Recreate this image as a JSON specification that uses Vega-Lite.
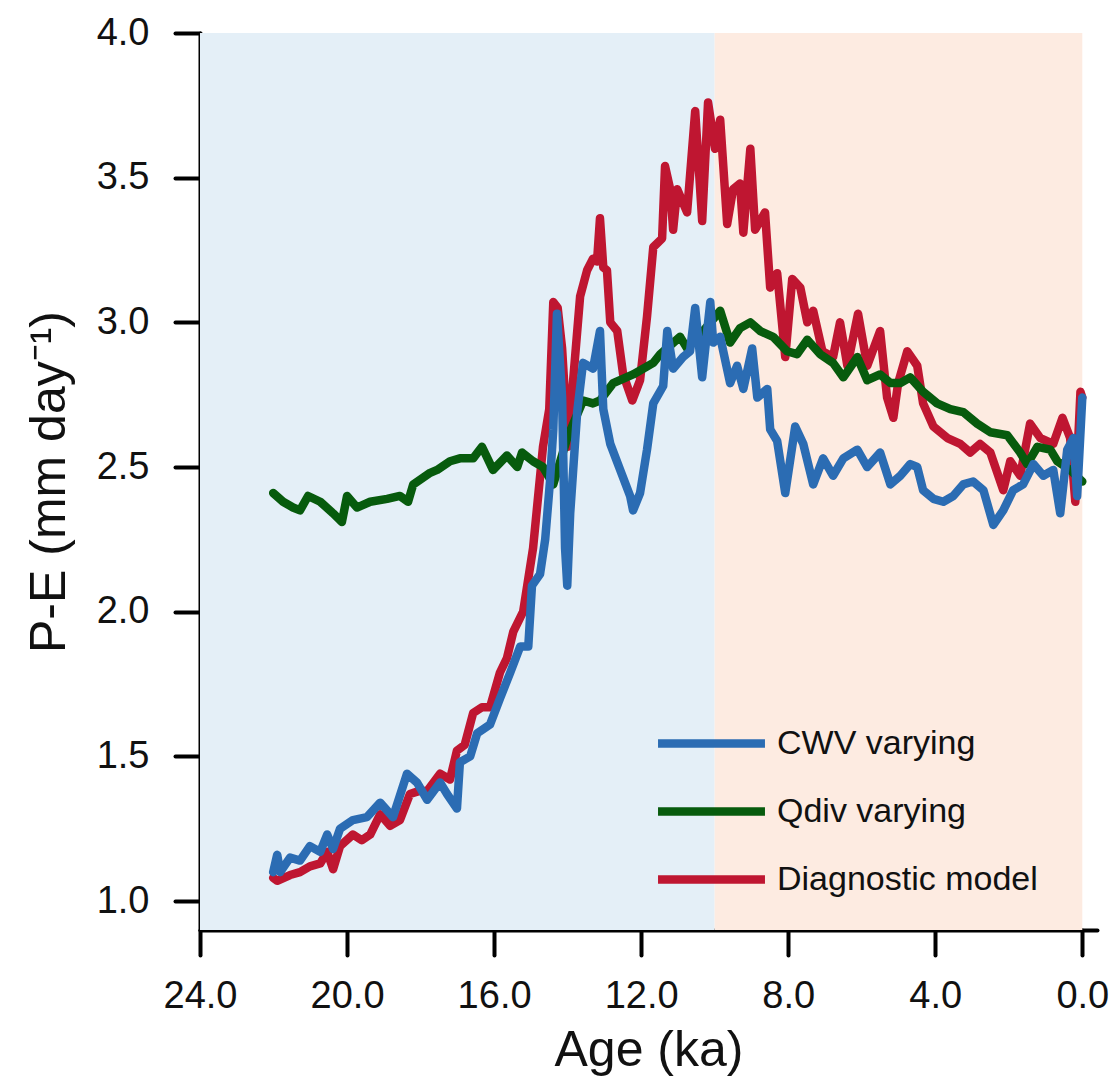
{
  "$schema": "https://vega.github.io/schema/vega-lite/v6.json",
  "width": 897,
  "height": 897,
  "autosize": {"type": "none"},
  "padding": {"left": 200, "top": 33, "right": 16, "bottom": 161},
  "background": "white",
  "config": {
    "view": {"stroke": null},
    "font": "Liberation Sans",
    "axis": {
      "domainColor": "#000000", "domainWidth": 4, "domainCap": "round",
      "tickColor": "#000000", "tickWidth": 4, "tickSize": 25, "tickCap": "round",
      "grid": false, "labelFont": "Liberation Sans", "labelColor": "#111111",
      "titleFont": "Liberation Sans", "titleFontWeight": "normal", "titleColor": "#111111"
    }
  },
  "data": {"values": [
    {"series":"Diagnostic model","age":22.01,"pe":1.08},{"series":"Diagnostic model","age":21.90,"pe":1.07},{"series":"Diagnostic model","age":21.55,"pe":1.09},{"series":"Diagnostic model","age":21.28,"pe":1.10},{"series":"Diagnostic model","age":21.01,"pe":1.12},{"series":"Diagnostic model","age":20.73,"pe":1.13},{"series":"Diagnostic model","age":20.54,"pe":1.17},{"series":"Diagnostic model","age":20.38,"pe":1.11},{"series":"Diagnostic model","age":20.19,"pe":1.19},{"series":"Diagnostic model","age":19.84,"pe":1.23},{"series":"Diagnostic model","age":19.60,"pe":1.21},{"series":"Diagnostic model","age":19.37,"pe":1.23},{"series":"Diagnostic model","age":19.10,"pe":1.30},{"series":"Diagnostic model","age":18.83,"pe":1.26},{"series":"Diagnostic model","age":18.56,"pe":1.28},{"series":"Diagnostic model","age":18.29,"pe":1.37},{"series":"Diagnostic model","age":18.05,"pe":1.38},{"series":"Diagnostic model","age":17.82,"pe":1.38},{"series":"Diagnostic model","age":17.47,"pe":1.44},{"series":"Diagnostic model","age":17.20,"pe":1.42},{"series":"Diagnostic model","age":17.01,"pe":1.52},{"series":"Diagnostic model","age":16.80,"pe":1.54},{"series":"Diagnostic model","age":16.57,"pe":1.65},{"series":"Diagnostic model","age":16.33,"pe":1.67},{"series":"Diagnostic model","age":16.11,"pe":1.67},{"series":"Diagnostic model","age":15.84,"pe":1.79},{"series":"Diagnostic model","age":15.65,"pe":1.84},{"series":"Diagnostic model","age":15.48,"pe":1.93},{"series":"Diagnostic model","age":15.21,"pe":2.00},{"series":"Diagnostic model","age":14.94,"pe":2.22},{"series":"Diagnostic model","age":14.67,"pe":2.57},{"series":"Diagnostic model","age":14.50,"pe":2.70},{"series":"Diagnostic model","age":14.39,"pe":3.07},{"series":"Diagnostic model","age":14.27,"pe":3.05},{"series":"Diagnostic model","age":14.15,"pe":2.91},{"series":"Diagnostic model","age":13.99,"pe":2.57},{"series":"Diagnostic model","age":13.85,"pe":2.80},{"series":"Diagnostic model","age":13.66,"pe":3.09},{"series":"Diagnostic model","age":13.47,"pe":3.18},{"series":"Diagnostic model","age":13.31,"pe":3.22},{"series":"Diagnostic model","age":13.20,"pe":3.21},{"series":"Diagnostic model","age":13.12,"pe":3.36},{"series":"Diagnostic model","age":13.03,"pe":3.19},{"series":"Diagnostic model","age":12.93,"pe":3.18},{"series":"Diagnostic model","age":12.84,"pe":3.00},{"series":"Diagnostic model","age":12.65,"pe":2.97},{"series":"Diagnostic model","age":12.49,"pe":2.82},{"series":"Diagnostic model","age":12.24,"pe":2.73},{"series":"Diagnostic model","age":12.03,"pe":2.80},{"series":"Diagnostic model","age":11.84,"pe":3.02},{"series":"Diagnostic model","age":11.67,"pe":3.26},{"series":"Diagnostic model","age":11.43,"pe":3.29},{"series":"Diagnostic model","age":11.35,"pe":3.54},{"series":"Diagnostic model","age":11.21,"pe":3.46},{"series":"Diagnostic model","age":11.13,"pe":3.32},{"series":"Diagnostic model","age":11.02,"pe":3.46},{"series":"Diagnostic model","age":10.75,"pe":3.38},{"series":"Diagnostic model","age":10.53,"pe":3.73},{"series":"Diagnostic model","age":10.34,"pe":3.35},{"series":"Diagnostic model","age":10.18,"pe":3.76},{"series":"Diagnostic model","age":9.99,"pe":3.60},{"series":"Diagnostic model","age":9.85,"pe":3.70},{"series":"Diagnostic model","age":9.66,"pe":3.34},{"series":"Diagnostic model","age":9.50,"pe":3.46},{"series":"Diagnostic model","age":9.31,"pe":3.48},{"series":"Diagnostic model","age":9.22,"pe":3.31},{"series":"Diagnostic model","age":9.03,"pe":3.60},{"series":"Diagnostic model","age":8.90,"pe":3.32},{"series":"Diagnostic model","age":8.63,"pe":3.38},{"series":"Diagnostic model","age":8.49,"pe":3.12},{"series":"Diagnostic model","age":8.30,"pe":3.17},{"series":"Diagnostic model","age":8.08,"pe":2.88},{"series":"Diagnostic model","age":7.89,"pe":3.15},{"series":"Diagnostic model","age":7.67,"pe":3.12},{"series":"Diagnostic model","age":7.48,"pe":3.00},{"series":"Diagnostic model","age":7.32,"pe":3.04},{"series":"Diagnostic model","age":7.07,"pe":2.90},{"series":"Diagnostic model","age":6.78,"pe":2.88},{"series":"Diagnostic model","age":6.59,"pe":3.00},{"series":"Diagnostic model","age":6.39,"pe":2.85},{"series":"Diagnostic model","age":6.10,"pe":3.03},{"series":"Diagnostic model","age":5.85,"pe":2.85},{"series":"Diagnostic model","age":5.50,"pe":2.97},{"series":"Diagnostic model","age":5.31,"pe":2.74},{"series":"Diagnostic model","age":5.14,"pe":2.67},{"series":"Diagnostic model","age":5.01,"pe":2.79},{"series":"Diagnostic model","age":4.76,"pe":2.90},{"series":"Diagnostic model","age":4.49,"pe":2.85},{"series":"Diagnostic model","age":4.33,"pe":2.72},{"series":"Diagnostic model","age":4.05,"pe":2.64},{"series":"Diagnostic model","age":3.67,"pe":2.60},{"series":"Diagnostic model","age":3.32,"pe":2.58},{"series":"Diagnostic model","age":3.05,"pe":2.55},{"series":"Diagnostic model","age":2.78,"pe":2.58},{"series":"Diagnostic model","age":2.50,"pe":2.55},{"series":"Diagnostic model","age":2.15,"pe":2.42},{"series":"Diagnostic model","age":1.96,"pe":2.52},{"series":"Diagnostic model","age":1.69,"pe":2.47},{"series":"Diagnostic model","age":1.42,"pe":2.65},{"series":"Diagnostic model","age":1.14,"pe":2.60},{"series":"Diagnostic model","age":0.79,"pe":2.58},{"series":"Diagnostic model","age":0.54,"pe":2.67},{"series":"Diagnostic model","age":0.33,"pe":2.60},{"series":"Diagnostic model","age":0.19,"pe":2.38},{"series":"Diagnostic model","age":0.05,"pe":2.76},{"series":"Diagnostic model","age":0.00,"pe":2.74},

    {"series":"Qdiv varying","age":22.01,"pe":2.41},{"series":"Qdiv varying","age":21.74,"pe":2.38},{"series":"Qdiv varying","age":21.47,"pe":2.36},{"series":"Qdiv varying","age":21.28,"pe":2.35},{"series":"Qdiv varying","age":21.06,"pe":2.40},{"series":"Qdiv varying","age":20.73,"pe":2.38},{"series":"Qdiv varying","age":20.38,"pe":2.34},{"series":"Qdiv varying","age":20.14,"pe":2.31},{"series":"Qdiv varying","age":20.00,"pe":2.40},{"series":"Qdiv varying","age":19.73,"pe":2.36},{"series":"Qdiv varying","age":19.37,"pe":2.38},{"series":"Qdiv varying","age":18.91,"pe":2.39},{"series":"Qdiv varying","age":18.56,"pe":2.40},{"series":"Qdiv varying","age":18.34,"pe":2.38},{"series":"Qdiv varying","age":18.20,"pe":2.44},{"series":"Qdiv varying","age":17.74,"pe":2.48},{"series":"Qdiv varying","age":17.55,"pe":2.49},{"series":"Qdiv varying","age":17.20,"pe":2.52},{"series":"Qdiv varying","age":16.93,"pe":2.53},{"series":"Qdiv varying","age":16.57,"pe":2.53},{"series":"Qdiv varying","age":16.33,"pe":2.57},{"series":"Qdiv varying","age":16.03,"pe":2.49},{"series":"Qdiv varying","age":15.65,"pe":2.54},{"series":"Qdiv varying","age":15.37,"pe":2.50},{"series":"Qdiv varying","age":15.24,"pe":2.55},{"series":"Qdiv varying","age":14.94,"pe":2.52},{"series":"Qdiv varying","age":14.67,"pe":2.50},{"series":"Qdiv varying","age":14.39,"pe":2.44},{"series":"Qdiv varying","age":14.01,"pe":2.60},{"series":"Qdiv varying","age":13.58,"pe":2.73},{"series":"Qdiv varying","age":13.31,"pe":2.72},{"series":"Qdiv varying","age":13.12,"pe":2.73},{"series":"Qdiv varying","age":12.76,"pe":2.79},{"series":"Qdiv varying","age":12.22,"pe":2.82},{"series":"Qdiv varying","age":11.67,"pe":2.86},{"series":"Qdiv varying","age":11.48,"pe":2.89},{"series":"Qdiv varying","age":10.94,"pe":2.95},{"series":"Qdiv varying","age":10.75,"pe":2.91},{"series":"Qdiv varying","age":10.31,"pe":2.97},{"series":"Qdiv varying","age":9.85,"pe":3.04},{"series":"Qdiv varying","age":9.58,"pe":2.93},{"series":"Qdiv varying","age":9.31,"pe":2.98},{"series":"Qdiv varying","age":9.03,"pe":3.00},{"series":"Qdiv varying","age":8.76,"pe":2.97},{"series":"Qdiv varying","age":8.41,"pe":2.95},{"series":"Qdiv varying","age":8.03,"pe":2.90},{"series":"Qdiv varying","age":7.76,"pe":2.89},{"series":"Qdiv varying","age":7.48,"pe":2.94},{"series":"Qdiv varying","age":7.13,"pe":2.89},{"series":"Qdiv varying","age":6.78,"pe":2.86},{"series":"Qdiv varying","age":6.50,"pe":2.81},{"series":"Qdiv varying","age":6.12,"pe":2.88},{"series":"Qdiv varying","age":5.85,"pe":2.80},{"series":"Qdiv varying","age":5.50,"pe":2.82},{"series":"Qdiv varying","age":5.22,"pe":2.79},{"series":"Qdiv varying","age":4.95,"pe":2.79},{"series":"Qdiv varying","age":4.68,"pe":2.81},{"series":"Qdiv varying","age":4.33,"pe":2.76},{"series":"Qdiv varying","age":3.95,"pe":2.72},{"series":"Qdiv varying","age":3.59,"pe":2.70},{"series":"Qdiv varying","age":3.24,"pe":2.69},{"series":"Qdiv varying","age":2.86,"pe":2.65},{"series":"Qdiv varying","age":2.50,"pe":2.62},{"series":"Qdiv varying","age":2.04,"pe":2.61},{"series":"Qdiv varying","age":1.69,"pe":2.55},{"series":"Qdiv varying","age":1.50,"pe":2.51},{"series":"Qdiv varying","age":1.22,"pe":2.57},{"series":"Qdiv varying","age":0.87,"pe":2.56},{"series":"Qdiv varying","age":0.68,"pe":2.52},{"series":"Qdiv varying","age":0.33,"pe":2.49},{"series":"Qdiv varying","age":0.00,"pe":2.45},

    {"series":"CWV varying","age":22.01,"pe":1.10},{"series":"CWV varying","age":21.90,"pe":1.16},{"series":"CWV varying","age":21.82,"pe":1.10},{"series":"CWV varying","age":21.55,"pe":1.15},{"series":"CWV varying","age":21.28,"pe":1.14},{"series":"CWV varying","age":21.01,"pe":1.19},{"series":"CWV varying","age":20.73,"pe":1.17},{"series":"CWV varying","age":20.54,"pe":1.23},{"series":"CWV varying","age":20.38,"pe":1.18},{"series":"CWV varying","age":20.19,"pe":1.25},{"series":"CWV varying","age":19.84,"pe":1.28},{"series":"CWV varying","age":19.46,"pe":1.29},{"series":"CWV varying","age":19.10,"pe":1.34},{"series":"CWV varying","age":18.75,"pe":1.29},{"series":"CWV varying","age":18.37,"pe":1.44},{"series":"CWV varying","age":18.10,"pe":1.41},{"series":"CWV varying","age":17.82,"pe":1.35},{"series":"CWV varying","age":17.47,"pe":1.41},{"series":"CWV varying","age":17.28,"pe":1.37},{"series":"CWV varying","age":17.01,"pe":1.32},{"series":"CWV varying","age":16.93,"pe":1.48},{"series":"CWV varying","age":16.65,"pe":1.50},{"series":"CWV varying","age":16.46,"pe":1.58},{"series":"CWV varying","age":16.11,"pe":1.61},{"series":"CWV varying","age":15.84,"pe":1.70},{"series":"CWV varying","age":15.56,"pe":1.79},{"series":"CWV varying","age":15.29,"pe":1.88},{"series":"CWV varying","age":15.07,"pe":1.88},{"series":"CWV varying","age":14.97,"pe":2.09},{"series":"CWV varying","age":14.75,"pe":2.13},{"series":"CWV varying","age":14.61,"pe":2.25},{"series":"CWV varying","age":14.48,"pe":2.45},{"series":"CWV varying","age":14.39,"pe":2.63},{"series":"CWV varying","age":14.29,"pe":3.03},{"series":"CWV varying","age":14.15,"pe":2.74},{"series":"CWV varying","age":14.07,"pe":2.22},{"series":"CWV varying","age":14.01,"pe":2.09},{"series":"CWV varying","age":13.93,"pe":2.34},{"series":"CWV varying","age":13.74,"pe":2.69},{"series":"CWV varying","age":13.58,"pe":2.86},{"series":"CWV varying","age":13.31,"pe":2.84},{"series":"CWV varying","age":13.12,"pe":2.97},{"series":"CWV varying","age":13.03,"pe":2.70},{"series":"CWV varying","age":12.84,"pe":2.58},{"series":"CWV varying","age":12.57,"pe":2.49},{"series":"CWV varying","age":12.30,"pe":2.40},{"series":"CWV varying","age":12.22,"pe":2.35},{"series":"CWV varying","age":12.03,"pe":2.41},{"series":"CWV varying","age":11.84,"pe":2.56},{"series":"CWV varying","age":11.67,"pe":2.72},{"series":"CWV varying","age":11.40,"pe":2.78},{"series":"CWV varying","age":11.29,"pe":2.97},{"series":"CWV varying","age":11.13,"pe":2.84},{"series":"CWV varying","age":10.86,"pe":2.88},{"series":"CWV varying","age":10.67,"pe":2.90},{"series":"CWV varying","age":10.53,"pe":3.05},{"series":"CWV varying","age":10.34,"pe":2.81},{"series":"CWV varying","age":10.12,"pe":3.07},{"series":"CWV varying","age":10.04,"pe":2.93},{"series":"CWV varying","age":9.85,"pe":2.95},{"series":"CWV varying","age":9.58,"pe":2.79},{"series":"CWV varying","age":9.39,"pe":2.85},{"series":"CWV varying","age":9.22,"pe":2.77},{"series":"CWV varying","age":8.98,"pe":2.91},{"series":"CWV varying","age":8.84,"pe":2.74},{"series":"CWV varying","age":8.57,"pe":2.77},{"series":"CWV varying","age":8.49,"pe":2.63},{"series":"CWV varying","age":8.30,"pe":2.59},{"series":"CWV varying","age":8.08,"pe":2.41},{"series":"CWV varying","age":7.81,"pe":2.64},{"series":"CWV varying","age":7.59,"pe":2.58},{"series":"CWV varying","age":7.32,"pe":2.44},{"series":"CWV varying","age":7.05,"pe":2.53},{"series":"CWV varying","age":6.78,"pe":2.47},{"series":"CWV varying","age":6.50,"pe":2.53},{"series":"CWV varying","age":6.12,"pe":2.56},{"series":"CWV varying","age":5.85,"pe":2.50},{"series":"CWV varying","age":5.50,"pe":2.55},{"series":"CWV varying","age":5.22,"pe":2.44},{"series":"CWV varying","age":4.95,"pe":2.47},{"series":"CWV varying","age":4.68,"pe":2.51},{"series":"CWV varying","age":4.49,"pe":2.50},{"series":"CWV varying","age":4.33,"pe":2.42},{"series":"CWV varying","age":4.05,"pe":2.39},{"series":"CWV varying","age":3.78,"pe":2.38},{"series":"CWV varying","age":3.51,"pe":2.40},{"series":"CWV varying","age":3.24,"pe":2.44},{"series":"CWV varying","age":2.97,"pe":2.45},{"series":"CWV varying","age":2.69,"pe":2.42},{"series":"CWV varying","age":2.42,"pe":2.30},{"series":"CWV varying","age":2.15,"pe":2.35},{"series":"CWV varying","age":1.88,"pe":2.42},{"series":"CWV varying","age":1.61,"pe":2.44},{"series":"CWV varying","age":1.33,"pe":2.51},{"series":"CWV varying","age":1.06,"pe":2.47},{"series":"CWV varying","age":0.79,"pe":2.49},{"series":"CWV varying","age":0.60,"pe":2.34},{"series":"CWV varying","age":0.41,"pe":2.56},{"series":"CWV varying","age":0.24,"pe":2.60},{"series":"CWV varying","age":0.14,"pe":2.40},{"series":"CWV varying","age":0.00,"pe":2.74}
  ]},
  "layer": [
    {
      "data": {"values": [{"from": 24, "to": 10, "zone": "glacial"}]},
      "mark": {"type": "rect", "color": "#e4eff7"},
      "encoding": {
        "x": {"field": "from", "type": "quantitative", "scale": {"domain": [24, -0.4], "nice": false, "zero": false}},
        "x2": {"field": "to"},
        "y": {"datum": 4.0, "type": "quantitative", "scale": {"domain": [0.9, 4.0], "nice": false, "zero": false}},
        "y2": {"datum": 0.9}
      }
    },
    {
      "data": {"values": [{"from": 10, "to": 0, "zone": "holocene"}]},
      "mark": {"type": "rect", "color": "#fdebe1"},
      "encoding": {
        "x": {"field": "from", "type": "quantitative"},
        "x2": {"field": "to"},
        "y": {"datum": 4.0, "type": "quantitative"},
        "y2": {"datum": 0.9}
      }
    },
    {
      "transform": [{"filter": "datum.series === 'Diagnostic model'"}],
      "mark": {"type": "line", "strokeWidth": 8.5, "strokeCap": "round", "strokeJoin": "round"},
      "encoding": {
        "x": {"field": "age", "type": "quantitative", "title": "Age (ka)",
          "axis": {"values": [24, 20, 16, 12, 8, 4, 0], "format": ".1f", "labelFontSize": 38, "labelPadding": 22, "titleFontSize": 50, "titlePadding": 10, "labelFlush": false}},
        "y": {"field": "pe", "type": "quantitative", "title": "P-E (mm day⁻¹)",
          "axis": {"values": [1.0, 1.5, 2.0, 2.5, 3.0, 3.5, 4.0], "format": ".1f", "labelFontSize": 38, "labelPadding": 26, "titleFontSize": 50, "titlePadding": 22, "labelFlush": false}},
        "color": {"field": "series", "type": "nominal",
          "scale": {"domain": ["CWV varying", "Qdiv varying", "Diagnostic model"], "range": ["#2b6cb3", "#075b0d", "#bf1631"]},
          "legend": {"title": null, "orient": "none", "legendX": 461, "legendY": 660, "symbolType": "M-1.16,0L1.16,0", "symbolSize": 8500, "symbolStrokeWidth": 8.5, "labelFontSize": 34, "labelOffset": 15, "labelLimit": 400, "rowPadding": 0, "padding": 0, "labelColor": "#111111", "labelFont": "Liberation Sans"}}
      }
    },
    {
      "transform": [{"filter": "datum.series === 'Qdiv varying'"}],
      "mark": {"type": "line", "strokeWidth": 8.5, "strokeCap": "round", "strokeJoin": "round"},
      "encoding": {
        "x": {"field": "age", "type": "quantitative"},
        "y": {"field": "pe", "type": "quantitative"},
        "color": {"field": "series", "type": "nominal"}
      }
    },
    {
      "transform": [{"filter": "datum.series === 'CWV varying'"}],
      "mark": {"type": "line", "strokeWidth": 8.5, "strokeCap": "round", "strokeJoin": "round"},
      "encoding": {
        "x": {"field": "age", "type": "quantitative"},
        "y": {"field": "pe", "type": "quantitative"},
        "color": {"field": "series", "type": "nominal"}
      }
    }
  ]
}
